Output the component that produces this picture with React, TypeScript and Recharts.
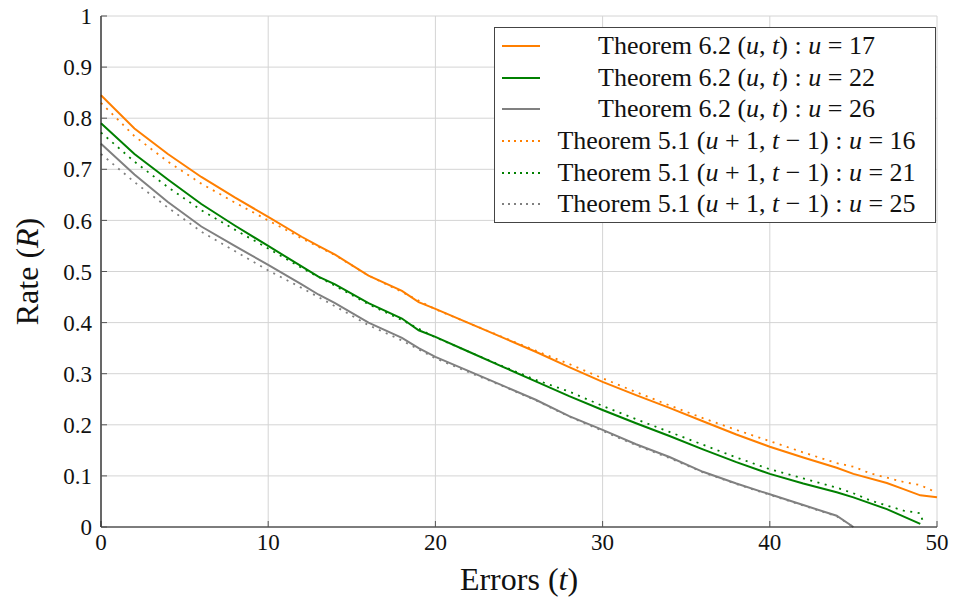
import { LineChart, Line, XAxis, YAxis, CartesianGrid, Legend } from 'recharts';

// tick labels
const xTicks = [0, 10, 20, 30, 40, 50];
const yTicks = [0, 0.1, 0.2, 0.3, 0.4, 0.5, 0.6, 0.7, 0.8, 0.9, 1];

// Theorem 6.2 (u,t), u = 17
const errorsU17 = [0, 2, 4, 6, 8, 10, 12, 13, 14, 16, 18, 19, 20, 22, 24, 26, 28, 30, 32, 34, 36, 38, 40, 42, 44, 45, 47, 48, 49, 50];
const rateU17 = [0.845, 0.78, 0.73, 0.685, 0.645, 0.607, 0.568, 0.55, 0.533, 0.492, 0.462, 0.44, 0.427, 0.399, 0.371, 0.343, 0.313, 0.284, 0.258, 0.233, 0.207, 0.181, 0.157, 0.136, 0.116, 0.104, 0.086, 0.074, 0.062, 0.058];

// Theorem 6.2 (u,t), u = 22
const errorsU22 = [0, 2, 4, 6, 8, 10, 12, 13, 14, 16, 18, 19, 20, 22, 24, 26, 28, 30, 32, 34, 36, 38, 40, 42, 44, 45, 47, 49];
const rateU22 = [0.79, 0.73, 0.68, 0.632, 0.59, 0.55, 0.51, 0.49, 0.475, 0.438, 0.408, 0.385, 0.372, 0.343, 0.314, 0.285, 0.256, 0.229, 0.203, 0.178, 0.152, 0.127, 0.104, 0.085, 0.068, 0.058, 0.035, 0.006];

// Theorem 6.2 (u,t), u = 26
const errorsU26 = [0, 2, 4, 6, 8, 10, 12, 13, 14, 16, 18, 19, 20, 22, 24, 26, 28, 30, 32, 34, 36, 38, 40, 42, 44, 45];
const rateU26 = [0.75, 0.69, 0.636, 0.588, 0.55, 0.513, 0.475, 0.455, 0.438, 0.4, 0.37, 0.35, 0.333, 0.305, 0.277, 0.249, 0.217, 0.19, 0.162, 0.137, 0.108, 0.085, 0.064, 0.043, 0.022, 0];

// Theorem 5.1 (u+1,t-1), u = 16
const errorsU16 = [0, 2, 4, 6, 8, 10, 12, 14, 16, 18, 20, 22, 24, 26, 28, 30, 32, 34, 36, 38, 40, 42, 44, 45, 46, 48, 49, 50];
const rateU16 = [0.83, 0.765, 0.715, 0.672, 0.635, 0.6, 0.565, 0.532, 0.492, 0.46, 0.426, 0.399, 0.372, 0.345, 0.319, 0.291, 0.264, 0.238, 0.213, 0.19, 0.168, 0.146, 0.125, 0.118, 0.105, 0.088, 0.082, 0.067];

// Theorem 5.1 (u+1,t-1), u = 21
const errorsU21 = [0, 2, 4, 6, 8, 10, 12, 14, 16, 18, 20, 22, 24, 26, 28, 30, 32, 34, 36, 38, 40, 42, 44, 45, 46, 48, 49, 49.2];
const rateU21 = [0.772, 0.715, 0.665, 0.62, 0.582, 0.545, 0.507, 0.472, 0.436, 0.405, 0.371, 0.343, 0.315, 0.288, 0.265, 0.237, 0.211, 0.186, 0.161, 0.136, 0.113, 0.095, 0.077, 0.066, 0.052, 0.032, 0.027, 0.006];

// Theorem 5.1 (u+1,t-1), u = 25
const errorsU25 = [0, 2, 4, 6, 8, 10, 12, 14, 16, 18, 20, 22, 24, 26, 28, 30, 32, 34, 36, 38, 40, 42, 44, 45];
const rateU25 = [0.73, 0.675, 0.625, 0.578, 0.54, 0.502, 0.468, 0.432, 0.395, 0.365, 0.33, 0.303, 0.276, 0.248, 0.216, 0.188, 0.16, 0.135, 0.107, 0.084, 0.063, 0.042, 0.021, 0];

const toPoints = (ts: number[], rs: number[]) => ts.map((t, i) => ({ t, r: rs[i] }));

const series = [
  { key: 's17', theorem: '6.2', args: 'ut', u: 17, color: '#ff7f00', dotted: false, data: toPoints(errorsU17, rateU17) },
  { key: 's22', theorem: '6.2', args: 'ut', u: 22, color: '#008000', dotted: false, data: toPoints(errorsU22, rateU22) },
  { key: 's26', theorem: '6.2', args: 'ut', u: 26, color: '#808080', dotted: false, data: toPoints(errorsU26, rateU26) },
  { key: 's16', theorem: '5.1', args: 'u1t1', u: 16, color: '#ff7f00', dotted: true, data: toPoints(errorsU16, rateU16) },
  { key: 's21', theorem: '5.1', args: 'u1t1', u: 21, color: '#008000', dotted: true, data: toPoints(errorsU21, rateU21) },
  { key: 's25', theorem: '5.1', args: 'u1t1', u: 25, color: '#808080', dotted: true, data: toPoints(errorsU25, rateU25) },
];

const FONT = '"Liberation Serif", "Times New Roman", serif';
const DOTS = '2 5.5';

const I = ({ children }: { children: any }) => <span style={{ fontStyle: 'italic' }}>{children}</span>;

const LegendBox = () => (
  <div
    style={{
      width: 440,
      border: '1px solid #444',
      background: '#fff',
      fontFamily: FONT,
      fontSize: 26,
      color: '#111',
      padding: '2px 0',
    }}
  >
    {series.map((s) => (
      <div key={s.key} style={{ display: 'flex', alignItems: 'center', height: 31.7 }}>
        <svg width={42} height={10} style={{ flexShrink: 0, marginLeft: 7 }}>
          <line x1={0} y1={5} x2={38} y2={5} stroke={s.color} strokeWidth={2} strokeDasharray={s.dotted ? '2 4' : undefined} />
        </svg>
        <div style={{ flex: 1, textAlign: 'center', whiteSpace: 'nowrap', paddingRight: 6 }}>
          Theorem {s.theorem}{' '}
          {s.args === 'ut' ? (
            <span>
              (<I>u</I>, <I>t</I>)
            </span>
          ) : (
            <span>
              (<I>u</I> + 1, <I>t</I> − 1)
            </span>
          )}{' '}
          : <I>u</I> = {s.u}
        </div>
      </div>
    ))}
  </div>
);

const rateLabel = (props: any) => {
  const vb = props.viewBox;
  const cx = vb.x + 27;
  const cy = vb.y + vb.height / 2;
  return (
    <text
      x={cx}
      y={cy}
      transform={`rotate(-90 ${cx} ${cy})`}
      textAnchor="middle"
      dominantBaseline="central"
      fontFamily={FONT}
      fontSize={32}
      fill="#111"
    >
      Rate (<tspan fontStyle="italic">R</tspan>)
    </text>
  );
};

const errorsLabel = (props: any) => {
  const vb = props.viewBox;
  return (
    <text x={vb.x + vb.width / 2} y={vb.y + 63} textAnchor="middle" fontFamily={FONT} fontSize={32} fill="#111">
      Errors (<tspan fontStyle="italic">t</tspan>)
    </text>
  );
};

const tickStyle = { fontFamily: FONT, fontSize: 23, fill: '#111' };

export default function App() {
  return (
    <div style={{ position: 'absolute', left: 0, top: 0, width: 953, height: 603, background: '#fff' }}>
      <LineChart width={953} height={603} margin={{ top: 16, right: 16, bottom: 0, left: 0 }}>
        <CartesianGrid stroke="#d4d4d4" strokeWidth={1} />
        <XAxis
          type="number"
          dataKey="t"
          domain={[0, 50]}
          ticks={xTicks}
          height={76}
          tickSize={-6}
          tickMargin={13}
          tick={tickStyle}
          axisLine={{ stroke: '#111', strokeWidth: 1.2 }}
          tickLine={{ stroke: '#555' }}
          label={errorsLabel}
        />
        <XAxis
          xAxisId="top"
          orientation="top"
          type="number"
          dataKey="t"
          domain={[0, 50]}
          ticks={xTicks}
          height={0}
          tickSize={-6}
          tick={false}
          axisLine={{ stroke: '#111', strokeWidth: 1.2 }}
          tickLine={{ stroke: '#555' }}
        />
        <YAxis
          type="number"
          domain={[0, 1]}
          ticks={yTicks}
          width={101}
          tickSize={-6}
          tickMargin={15}
          tick={tickStyle}
          axisLine={{ stroke: '#111', strokeWidth: 1.2 }}
          tickLine={{ stroke: '#555' }}
          label={rateLabel}
        />
        <YAxis
          yAxisId="right"
          orientation="right"
          type="number"
          domain={[0, 1]}
          ticks={yTicks}
          width={0}
          tickSize={-6}
          tick={false}
          axisLine={{ stroke: '#111', strokeWidth: 1.2 }}
          tickLine={{ stroke: '#555' }}
        />
        {series.map((s) => (
          <Line
            key={s.key}
            data={s.data}
            dataKey="r"
            name={`${s.key}`}
            type="linear"
            stroke={s.color}
            strokeWidth={s.dotted ? 1.8 : 2}
            strokeDasharray={s.dotted ? DOTS : undefined}
            dot={false}
            activeDot={false}
            isAnimationActive={false}
          />
        ))}
        <Legend
          layout="horizontal"
          verticalAlign="middle"
          align="center"
          wrapperStyle={{ top: 27, left: 494, width: 442 }}
          content={() => <LegendBox />}
        />
      </LineChart>
    </div>
  );
}
